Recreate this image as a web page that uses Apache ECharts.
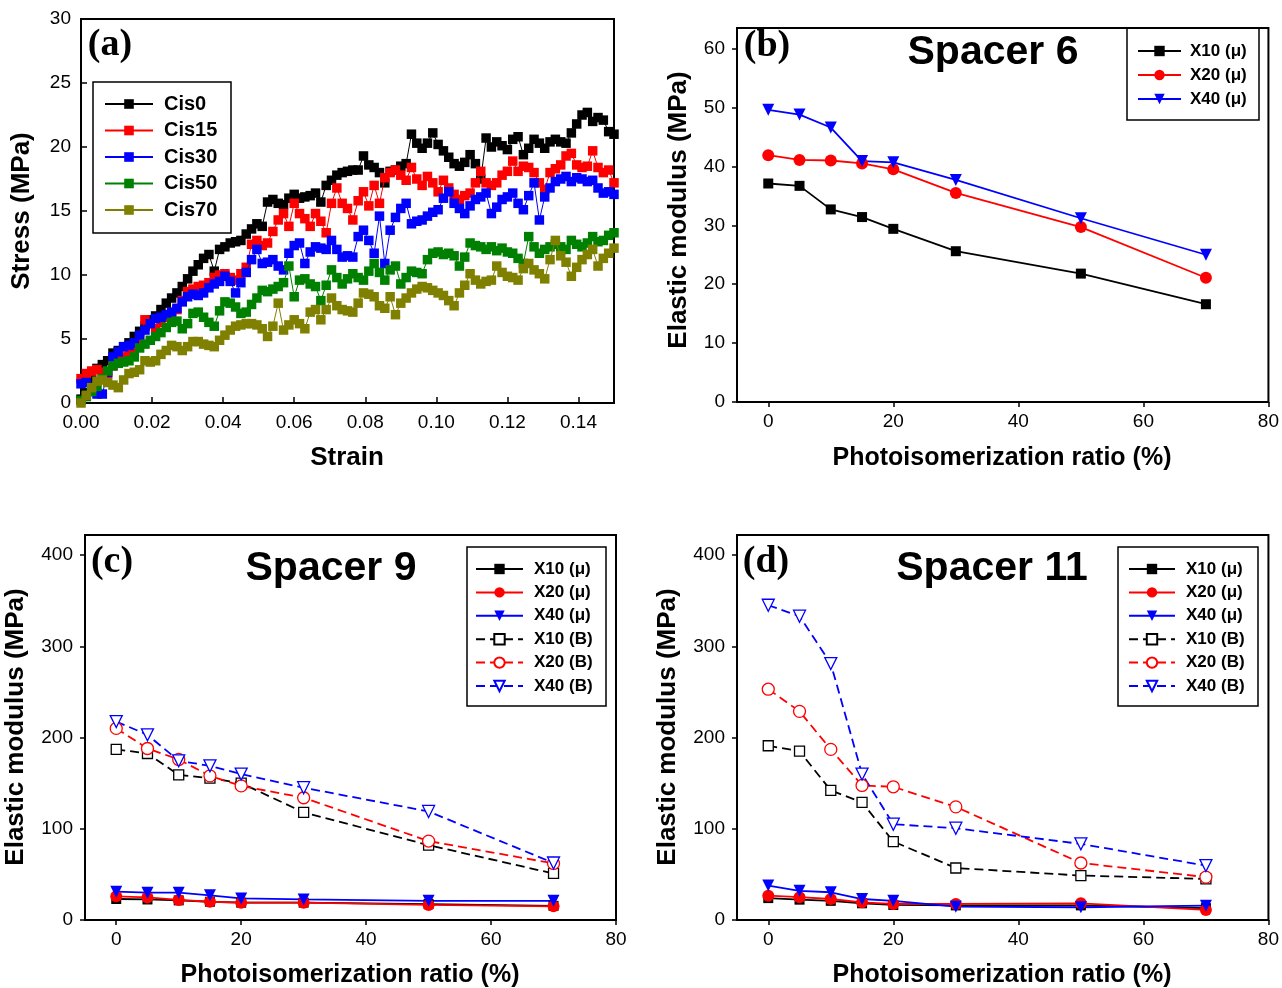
<!DOCTYPE html>
<html><head><meta charset="utf-8">
<script src="https://cdn.jsdelivr.net/npm/echarts@6/dist/echarts.min.js"></script>
<style>html,body{margin:0;padding:0;background:#fff}#c{width:1282px;height:988px}</style>
</head><body><div id="c"></div>
<script>
// ---------- Panel (a): stress-strain ----------
const strain = [
0,0.0015,0.003,0.0045,0.006,0.0075,0.009,0.0105,0.012,0.0135,
0.015,0.0165,0.018,0.0195,0.021,0.0225,0.024,0.0255,0.027,0.0285,
0.030,0.0315,0.033,0.0345,0.036,0.0375,0.039,0.0405,0.042,0.0435,
0.045,0.0465,0.048,0.0495,0.051,0.0525,0.054,0.0555,0.057,0.0585,
0.060,0.0615,0.063,0.0645,0.066,0.0675,0.069,0.0705,0.072,0.0735,
0.075,0.0765,0.078,0.0795,0.081,0.0825,0.084,0.0855,0.087,0.0885,
0.090,0.0915,0.093,0.0945,0.096,0.0975,0.099,0.1005,0.102,0.1035,
0.105,0.1065,0.108,0.1095,0.111,0.1125,0.114,0.1155,0.117,0.1185,
0.120,0.1215,0.123,0.1245,0.126,0.1275,0.129,0.1305,0.132,0.1335,
0.135,0.1365,0.138,0.1395,0.141,0.1425,0.144,0.1455,0.147,0.1485,
0.150];
const cis0 = [
0.3,0.8,1.8,2.7,3.0,3.3,3.9,4.1,4.4,4.7,
5.2,5.6,6.0,6.5,6.8,7.3,7.8,8.2,8.6,9.1,
9.7,10.3,10.8,11.3,11.6,10.3,12.0,12.2,12.5,12.6,
12.7,13.2,13.6,14.0,13.8,15.7,15.9,15.6,15.5,16.0,
16.3,16.0,16.1,16.2,16.4,15.7,17.0,17.4,17.8,18.0,
18.1,18.2,18.2,19.3,18.6,18.4,18.0,17.2,18.1,18.2,
18.5,18.7,21.0,20.3,19.9,20.3,21.1,20.2,19.7,19.2,
18.7,18.5,18.8,19.4,18.7,17.5,20.7,20.0,20.4,20.1,
19.8,20.6,20.8,19.4,19.9,20.6,20.3,19.9,20.4,20.6,
20.4,20.3,21.1,21.8,22.5,22.7,22.0,22.3,22.1,21.2,
21.0];
const cis15 = [
1.9,2.3,2.5,2.6,2.4,2.3,2.9,3.3,3.6,4.0,
4.3,4.9,6.5,6.2,5.8,6.3,6.7,7.0,7.3,8.0,
8.7,8.9,9.1,9.2,9.4,9.8,10.0,10.1,9.8,9.6,
10.1,10.6,12.4,12.7,12.3,12.5,13.4,14.3,14.8,13.8,
15.6,14.8,14.4,13.8,14.8,14.2,13.3,15.6,16.8,15.6,
15.2,14.3,15.8,16.5,15.4,17.0,15.6,17.6,18.0,18.2,
17.8,17.4,18.4,17.5,17.0,17.7,17.2,16.5,17.4,16.8,
16.3,15.9,16.2,16.4,17.2,18.1,17.2,17.0,17.2,17.8,
18.1,18.9,18.1,18.5,18.4,18.0,17.2,16.7,18.0,18.3,
18.6,19.3,19.5,18.6,18.4,18.5,19.7,18.4,18.0,18.2,
17.2];
const cis30 = [
1.5,1.6,0.9,0.7,0.7,2.4,3.6,4.0,4.4,4.5,
4.7,5.3,5.7,6.2,6.6,6.7,6.9,7.1,7.4,7.9,
8.3,8.5,8.4,8.6,9.0,9.3,9.5,9.9,9.5,8.6,
9.4,10.2,11.2,12.0,10.9,11.0,11.2,10.7,10.4,11.7,
12.3,12.5,10.9,11.8,12.2,12.1,12.0,12.7,12.0,11.4,
11.5,11.4,13.0,13.5,12.7,11.7,14.6,10.9,13.5,14.5,
15.2,15.6,14.0,14.2,14.3,14.6,14.9,15.1,16.0,16.5,
15.6,15.2,14.8,15.4,15.9,16.1,16.4,14.8,15.3,15.9,
16.1,16.4,15.6,15.1,16.2,17.2,14.3,16.1,16.8,17.3,
17.5,17.7,17.3,17.6,17.5,17.3,17.4,16.8,16.4,16.5,
16.3];
const cis50 = [
0.2,0.5,0.9,1.3,1.9,2.5,2.9,3.1,3.2,3.3,
3.6,4.3,4.6,4.9,5.2,5.5,5.9,6.3,6.4,5.8,
6.2,7.0,7.1,6.7,6.3,6.0,7.2,7.9,7.8,7.5,
7.0,7.1,7.7,8.2,8.8,8.7,8.9,9.1,9.4,10.7,
8.3,9.6,9.7,9.3,9.1,8.0,9.2,10.4,9.8,9.3,
9.7,10.1,9.8,9.6,10.3,10.9,10.2,9.6,10.4,10.7,
9.3,9.8,10.3,10.2,10.1,11.2,11.7,11.8,11.6,11.7,
11.5,10.7,11.4,12.5,12.3,12.2,12.0,12.2,11.9,12.1,
11.8,11.7,11.3,10.9,13.0,12.2,11.7,12.0,12.2,12.4,
12.2,12.0,12.7,12.4,12.2,12.5,13.0,12.6,12.7,13.1,
13.3];
const cis70 = [
0.0,0.6,1.2,1.7,1.8,1.6,1.4,1.2,1.8,2.3,
2.4,2.6,3.3,3.2,3.3,3.8,4.1,4.5,4.4,4.1,
4.4,4.8,4.8,4.6,4.5,4.4,4.9,5.3,5.7,6.0,
6.1,6.2,6.2,6.1,5.8,5.2,6.0,7.8,5.7,6.1,
6.5,6.2,5.8,7.1,7.3,6.5,7.3,8.2,7.6,7.3,
7.2,7.1,7.8,8.6,8.5,8.3,7.6,7.4,8.3,6.9,
7.8,8.2,8.6,8.9,9.1,9.0,8.8,8.6,8.4,8.0,
7.6,8.6,9.2,10.1,9.6,9.3,9.5,9.6,10.7,10.2,
9.9,9.8,9.6,10.5,10.9,10.4,10.1,9.7,11.2,12.7,
11.5,11.0,9.9,10.6,11.2,11.6,12.0,10.7,11.3,11.7,
12.1];
const cisNames = ['Cis0','Cis15','Cis30','Cis50','Cis70'];
const strainTicks = [0,0.02,0.04,0.06,0.08,0.10,0.12,0.14];
const stressTicks = [0,5,10,15,20,25,30];

// ---------- Panels (b)-(d): modulus vs photoisomerization ratio ----------
const ratio = [0,5,10,15,20,30,50,70];
const ratioTicks = [0,20,40,60,80];
// (b) Spacer 6
const s6_X10mu = [37.1,36.7,32.7,31.4,29.4,25.6,21.8,16.6];
const s6_X20mu = [41.9,41.1,41.0,40.5,39.5,35.5,29.7,21.1];
const s6_X40mu = [49.6,48.8,46.6,40.9,40.7,37.7,31.2,25.0];
const s6Ticks = [0,10,20,30,40,50,60];
// (c) Spacer 9
const s9_X10mu = [23,22.5,21.5,20,19,19,17.5,15.5];
const s9_X20mu = [26,24.7,22,20,19,19,16.5,15];
const s9_X40mu = [31,30,30,27,23.6,22.5,21,21];
const s9_X10B = [187,182.5,159,155.6,150,118,82,51];
const s9_X20B = [210,188,176,158,147,134,86.5,62];
const s9_X40B = [217.5,203,174.5,169,160,145,119,62.5];
// (d) Spacer 11
const s11_X10mu = [24,22.3,21,18.3,16.5,16,16,13];
const s11_X20mu = [26.7,25,23,19.4,17.6,17.6,18.3,11];
const s11_X40mu = [37.7,32,30.4,23,21,14.6,14,15.7];
const s11_X10B = [191,185,142,129,86,57,48.7,45];
const s11_X20B = [253,228.7,187,147.5,146,124,62.5,47];
const s11_X40B = [345,333,281,160,105,100.6,83.4,59.6];
const modTicks = [0,100,200,300,400];
const modNames = ['X10 (\u03bc)','X20 (\u03bc)','X40 (\u03bc)','X10 (B)','X20 (B)','X40 (B)'];

// ---------- chart ----------
const FF = '"Liberation Sans", Arial, sans-serif';
const pair = (xs, ys) => xs.map((x, i) => [x, ys[i]]);
const cisColors = ['#000000','#ff0000','#0000ff','#008000','#808000'];
const cisData = [cis0, cis15, cis30, cis50, cis70];
const DOWN = 'path://M0,0L10,0L5,9Z';

const series = [];
cisData.forEach((d, k) => {
  series.push({
    name: cisNames[k], type: 'line', xAxisIndex: 0, yAxisIndex: 0,
    data: pair(strain, d), symbol: 'rect', symbolSize: 9.5,
    itemStyle: {color: cisColors[k]}, lineStyle: {color: cisColors[k], width: 1},
    z: 2 + k
  });
});

function modSeries(name, axis, ys, color, symbol, hollow, size) {
  return {
    name: name, type: 'line', xAxisIndex: axis, yAxisIndex: axis,
    data: pair(ratio, ys), symbol: symbol, symbolSize: size,
    itemStyle: hollow ? {color: '#ffffff', borderColor: color, borderWidth: 1.3} : {color: color},
    lineStyle: {color: color, width: 1.8, type: hollow ? [9, 5] : 'solid'},
    z: hollow ? 3 : 4
  };
}
// (b)
series.push(modSeries(modNames[0], 1, s6_X10mu, '#000', 'rect', false, 10));
series.push(modSeries(modNames[1], 1, s6_X20mu, '#ff0000', 'circle', false, 12));
series.push(modSeries(modNames[2], 1, s6_X40mu, '#0000ff', DOWN, false, 12));
// (c)
series.push(modSeries(modNames[0], 2, s9_X10mu, '#000', 'rect', false, 10));
series.push(modSeries(modNames[1], 2, s9_X20mu, '#ff0000', 'circle', false, 12));
series.push(modSeries(modNames[2], 2, s9_X40mu, '#0000ff', DOWN, false, 12));
series.push(modSeries(modNames[3], 2, s9_X10B, '#000', 'rect', true, 10));
series.push(modSeries(modNames[4], 2, s9_X20B, '#ff0000', 'circle', true, 12));
series.push(modSeries(modNames[5], 2, s9_X40B, '#0000ff', DOWN, true, 12));
// (d)
series.push(modSeries(modNames[0], 3, s11_X10mu, '#000', 'rect', false, 10));
series.push(modSeries(modNames[1], 3, s11_X20mu, '#ff0000', 'circle', false, 12));
series.push(modSeries(modNames[2], 3, s11_X40mu, '#0000ff', DOWN, false, 12));
series.push(modSeries(modNames[3], 3, s11_X10B, '#000', 'rect', true, 10));
series.push(modSeries(modNames[4], 3, s11_X20B, '#ff0000', 'circle', true, 12));
series.push(modSeries(modNames[5], 3, s11_X40B, '#0000ff', DOWN, true, 12));

function xAx(grid, min, max, ticks, fmt, inside) {
  return {
    gridIndex: grid, type: 'value', min: min, max: max, position: 'bottom',
    axisLine: {show: false, onZero: false}, splitLine: {show: false},
    axisTick: {show: true, inside: inside, length: inside ? 6 : 5, customValues: ticks, lineStyle: {color: '#000', width: 1.5}},
    axisLabel: {customValues: ticks, formatter: fmt, margin: 10, fontSize: 19, color: '#000', fontFamily: FF}
  };
}
function yAx(grid, min, max, ticks, inside) {
  return {
    gridIndex: grid, type: 'value', min: min, max: max, position: 'left',
    axisLine: {show: false, onZero: false}, splitLine: {show: false},
    axisTick: {show: true, inside: inside, length: inside ? 6 : 5, customValues: ticks, lineStyle: {color: '#000', width: 1.5}},
    axisLabel: {customValues: ticks, margin: inside ? 10 : 12, fontSize: 19, color: '#000', fontFamily: FF}
  };
}
const gridBase = {show: true, borderColor: '#000', borderWidth: 2, backgroundColor: 'transparent'};

function legend(names, left, top, itemWidth, lh, gap, pad, fs, ih) {
  return {
    data: names, orient: 'vertical', left: left, top: top, padding: 0,
    itemWidth: itemWidth, itemHeight: ih, itemGap: gap, selectedMode: false,
    textStyle: {fontSize: fs, fontWeight: 'bold', fontFamily: FF, color: '#000', lineHeight: lh, padding: [0, 0, 0, pad]}
  };
}

function txt(x, y, text, font, rot) {
  return {type: 'text', x: x, y: y, rotation: rot || 0, z: 100,
    style: {text: text, font: font, fill: '#000', align: 'center', verticalAlign: 'middle'}};
}
function box(x, y, w, h) {
  return {type: 'rect', shape: {x: x, y: y, width: w, height: h}, z: 90,
    style: {fill: 'none', stroke: '#000', lineWidth: 1.5}};
}
const TB = 'bold 25px "Liberation Sans", Arial, sans-serif';
const TY = 'bold 26px "Liberation Sans", Arial, sans-serif';
const PL = 'bold 38px "Liberation Serif", "Times New Roman", serif';
const SP = 'bold 41px "Liberation Sans", Arial, sans-serif';
const R90 = Math.PI / 2;

const option = {
  animation: false,
  backgroundColor: '#ffffff',
  grid: [
    Object.assign({left: 81, top: 19, width: 533, height: 384}, gridBase),
    Object.assign({left: 737, top: 28, width: 532, height: 374}, gridBase),
    Object.assign({left: 85, top: 535, width: 531, height: 385}, gridBase),
    Object.assign({left: 737, top: 535, width: 532, height: 385}, gridBase)
  ],
  xAxis: [
    xAx(0, 0, 0.15, strainTicks, v => v.toFixed(2), true),
    xAx(1, -5, 80, ratioTicks, v => String(v), false),
    xAx(2, -5, 80, ratioTicks, v => String(v), false),
    xAx(3, -5, 80, ratioTicks, v => String(v), false)
  ],
  yAxis: [
    yAx(0, 0, 30, stressTicks, true),
    yAx(1, 0, 63.5, s6Ticks, false),
    yAx(2, 0, 422, modTicks, false),
    yAx(3, 0, 422, modTicks, false)
  ],
  legend: [
    legend(cisNames, 104, 94, 48, 20, 6.5, 6, 20, 12),
    legend(modNames.slice(0, 3), 1137, 42, 43, 18, 6, 4, 17, 13),
    legend(modNames, 475, 560, 47, 18, 5.4, 6, 17, 13),
    legend(modNames, 1128, 560, 46, 18, 5.4, 6, 17, 13)
  ],
  graphic: [
    box(93, 82, 138, 151), box(1127, 28, 132, 92), box(467, 547, 139, 159), box(1118, 547, 140, 159),
    txt(110, 45, '(a)', PL), txt(767, 46, '(b)', PL), txt(112, 562, '(c)', PL), txt(766, 562, '(d)', PL),
    txt(993, 53, 'Spacer 6', SP), txt(331, 569, 'Spacer 9', SP), txt(992, 569, 'Spacer 11', SP),
    txt(22, 211, 'Stress (MPa)', TY, R90), txt(347, 458, 'Strain', TY),
    txt(679, 210, 'Elastic modulus (MPa)', TY, R90), txt(1002, 458, 'Photoisomerization ratio (%)', TB),
    txt(16, 727, 'Elastic modulus (MPa)', TY, R90), txt(350, 975, 'Photoisomerization ratio (%)', TB),
    txt(668, 727, 'Elastic modulus (MPa)', TY, R90), txt(1002, 975, 'Photoisomerization ratio (%)', TB)
  ],
  series: series
};
const chart = echarts.init(document.getElementById('c'), null, {renderer: 'canvas'});
chart.setOption(option);
</script></body></html>
